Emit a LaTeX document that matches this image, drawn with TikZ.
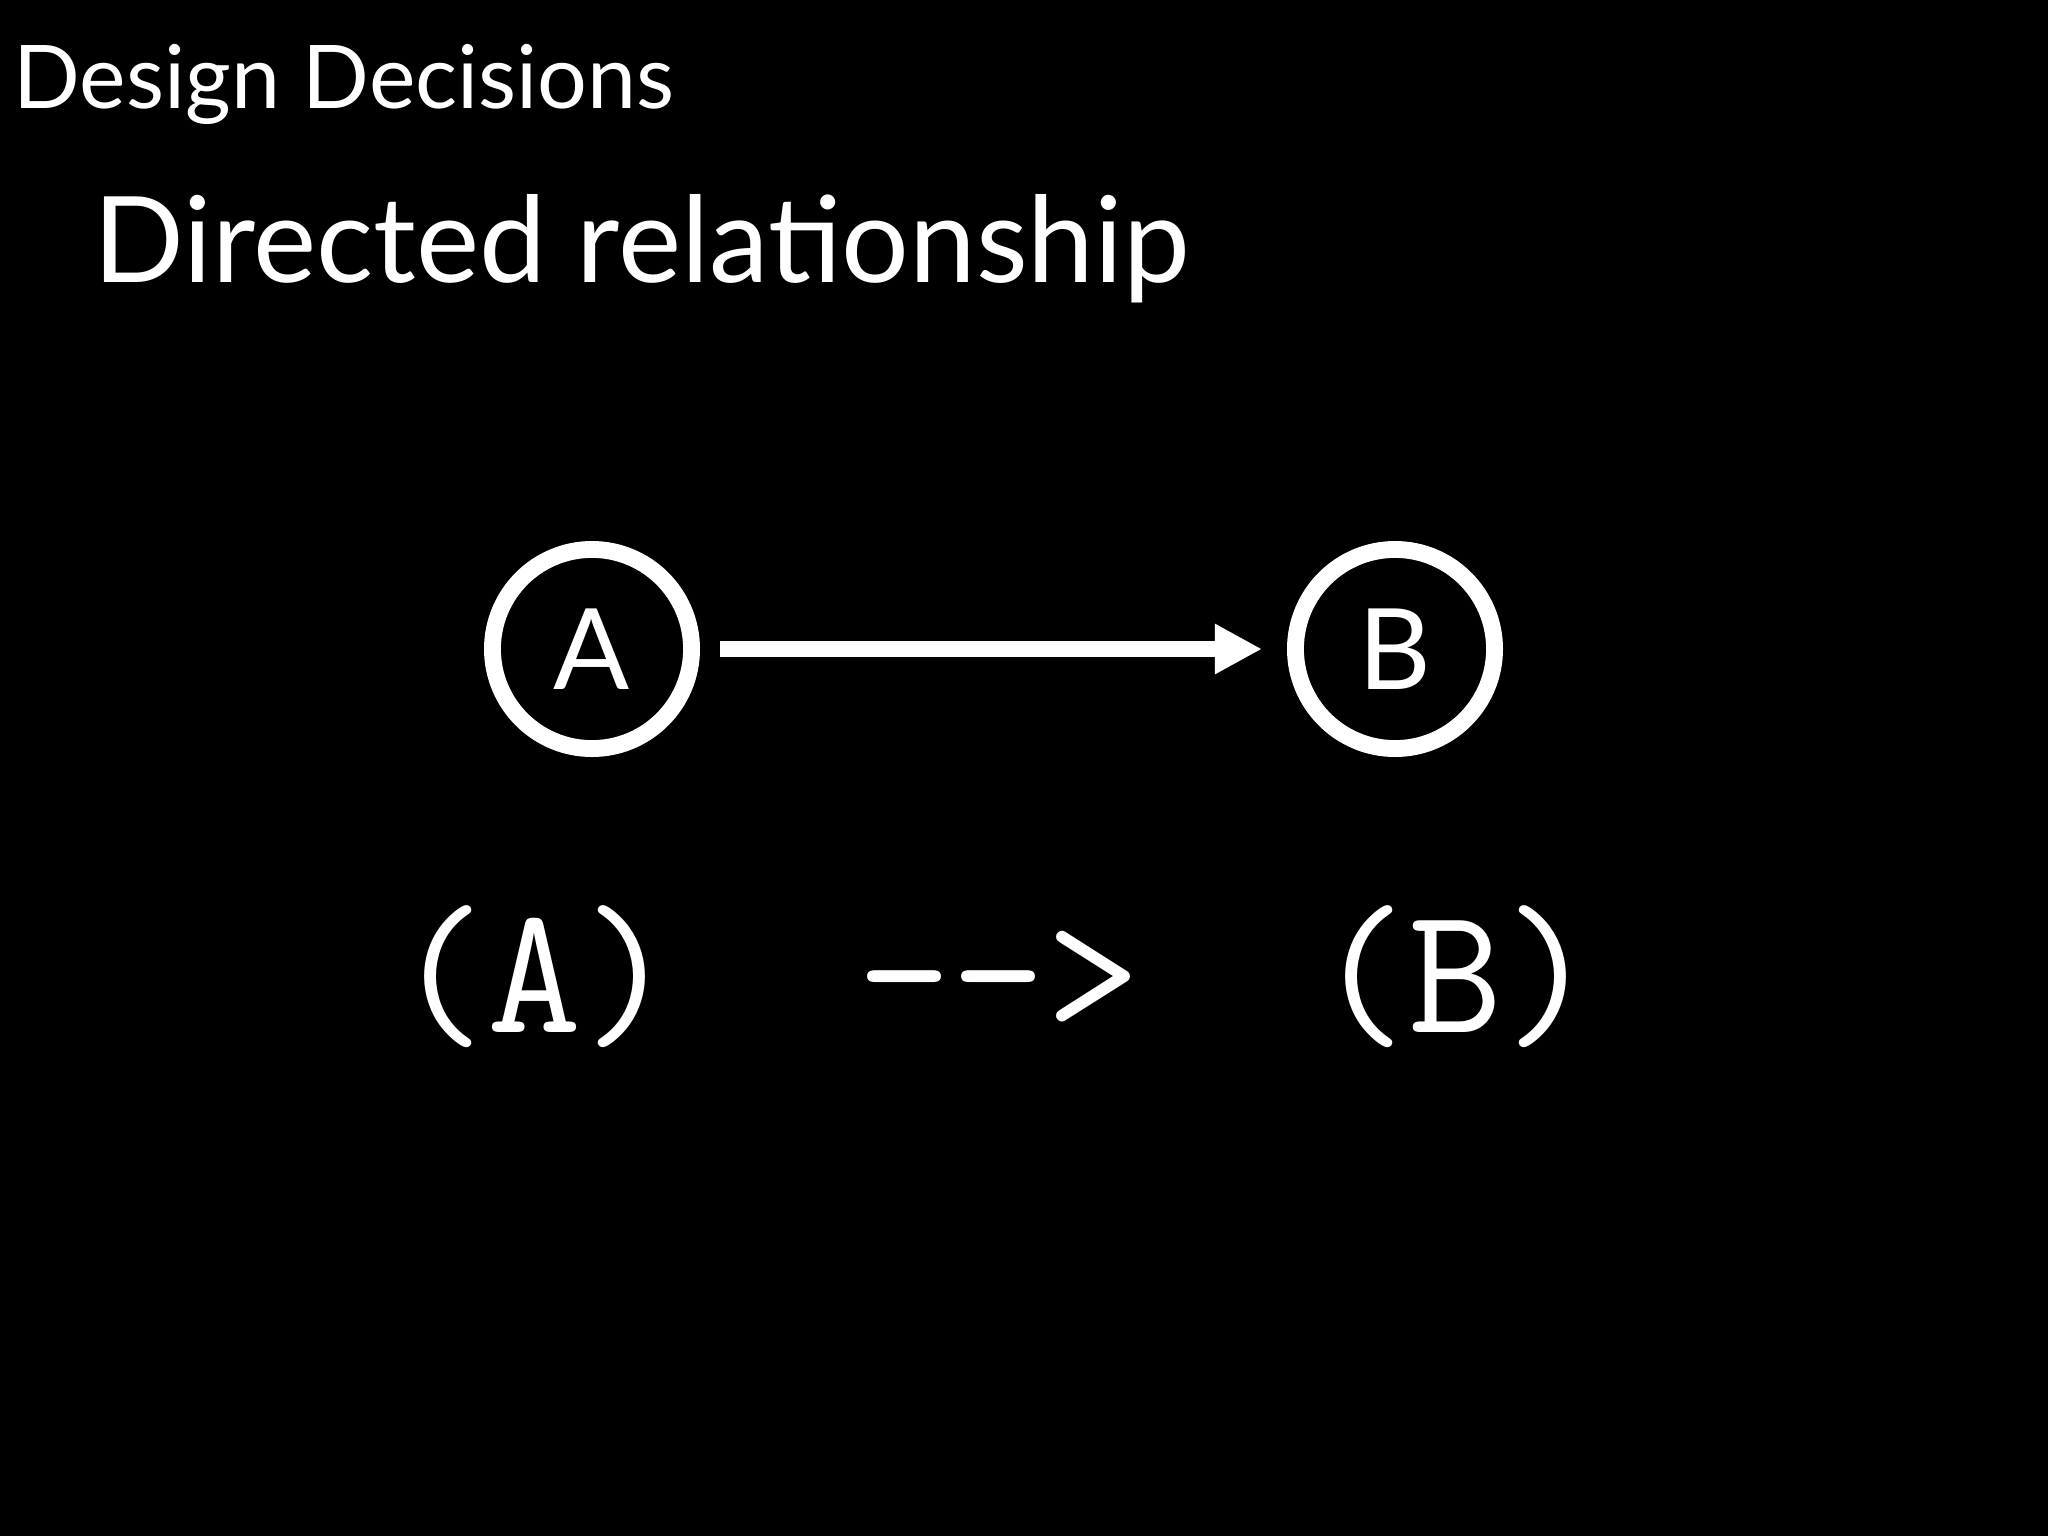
\documentclass[tikz,border=0pt]{standalone}
\usepackage{fontspec}
\setmainfont{Lato}
\usetikzlibrary{arrows.meta}

\begin{document}
\begin{tikzpicture}
	[x=0.01cm,y=-0.01cm,
		every node/.style={text=white,inner sep=0pt},
		slide title/.style={anchor=base west,font=\fontsize{25}{30}\selectfont},
		heading/.style={anchor=base west,font=\fontsize{34}{40}\selectfont},
		entity/.style={circle,draw=white,line width=4.8pt,minimum size=1.99cm,font=\fontsize{32}{38}\selectfont},
		relation/.style={-{Triangle[length=13.4pt,width=13.4pt]},white,line width=4.6pt},
		code/.style={anchor=base,font=\ttfamily\fontsize{52}{60}\selectfont}]
	\fill[black] (0,0) rectangle (2048,1536);
	\node[slide title] (T) at (13,108) {Design Decisions};
	\node[heading] (H) at (93,282) {Directed relationship};
	\node[entity] (A) at (592,649) {A};
	\node[entity] (B) at (1395,649) {B};
	\draw[relation,shorten <=0.2cm,shorten >=0.25cm] (A) -- (B);
	\node[code] (CA) at (535,1032) {(A)};
	\node[code] (CR) at (999,1032) {-{}->};
	\node[code] (CB) at (1456,1032) {(B)};
\end{tikzpicture}
\end{document}
